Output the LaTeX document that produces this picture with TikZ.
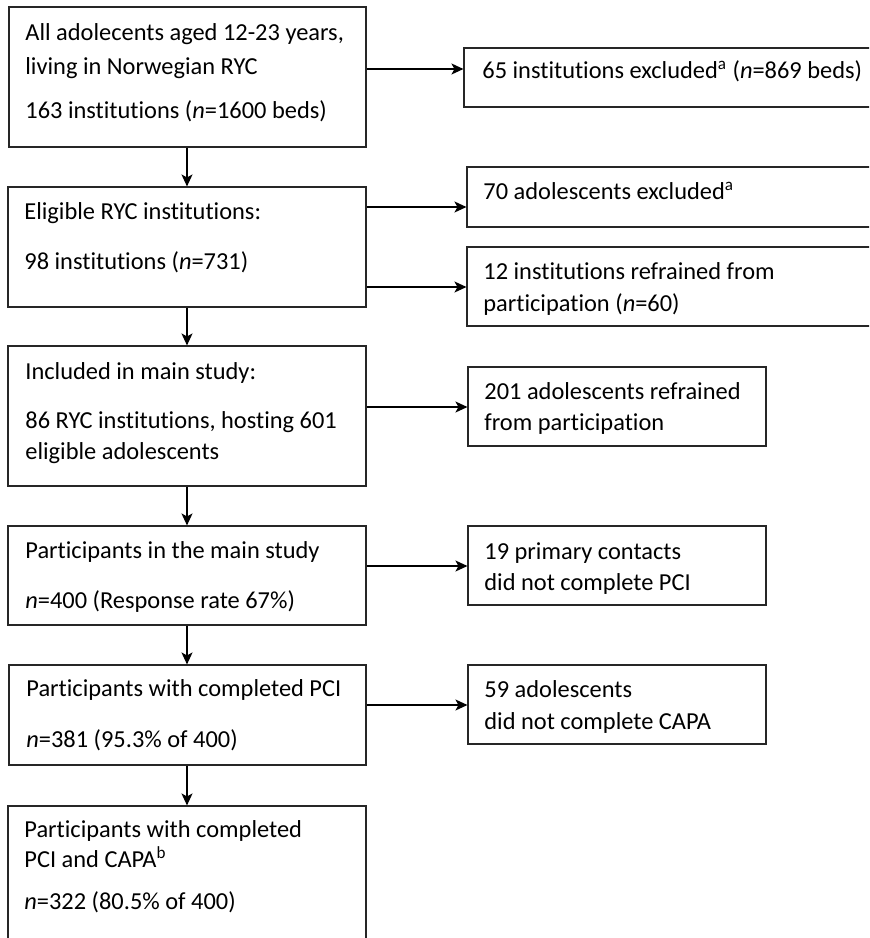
\documentclass[tikz,border=0pt]{standalone}
\usepackage{fontspec}
\setmainfont{Carlito}[Ligatures=NoCommon]
\usetikzlibrary{fit,arrows.meta}
\begin{document}
\begin{tikzpicture}[x=0.5pt,y=-0.5pt,
  box/.style={draw=black!85,line width=0.55pt,inner sep=0pt,rectangle},
  txt/.style={anchor=base west,inner sep=0pt,font=\fontsize{12.2pt}{14pt}\selectfont},
  arr/.style={line width=0.75pt,-{Stealth[length=6pt,width=5.5pt,inset=1.5pt]}}]
\useasboundingbox (0,0) rectangle (869,938);
\clip (0,0) rectangle (869,938);
% boxes
\node[box,fit={(9,7) (366,147)}] (b1) {};
\node[box,fit={(464,48) (885,107)}] (b2) {};
\node[box,fit={(8,187) (366,307)}] (b3) {};
\node[box,fit={(467,167) (885,227)}] (b4) {};
\node[box,fit={(467,247) (885,326)}] (b5) {};
\node[box,fit={(8,346) (366,486)}] (b6) {};
\node[box,fit={(468,367) (766,446)}] (b7) {};
\node[box,fit={(8,526) (366,625)}] (b8) {};
\node[box,fit={(468,526) (766,605)}] (b9) {};
\node[box,fit={(9,665) (366,765)}] (b10) {};
\node[box,fit={(468,665) (766,744)}] (b11) {};
\node[box,fit={(8,806) (366,970)}] (b12) {};
% texts
\node[txt] (t1a) at (25,40) {All adolecents aged 12-23 years,};
\node[txt] (t1b) at (25,74) {living in Norwegian RYC};
\node[txt] (t1c) at (25,118) {163 institutions (\textit{n}=1600 beds)};
\node[txt] (t2) at (482,78) {65 institutions excluded\textsuperscript{a} (\textit{n}=869 beds)};
\node[txt] (t3a) at (24,219) {Eligible RYC institutions:};
\node[txt] (t3b) at (24,269) {98 institutions (\textit{n}=731)};
\node[txt] (t4) at (483,199) {70 adolescents excluded\textsuperscript{a}};
\node[txt] (t5a) at (483,279) {12 institutions refrained from};
\node[txt] (t5b) at (483,311) {participation (\textit{n}=60)};
\node[txt] (t6a) at (25,379) {Included in main study:};
\node[txt] (t6b) at (25,428) {86 RYC institutions, hosting 601};
\node[txt] (t6c) at (25,459) {eligible adolescents};
\node[txt] (t7a) at (484,399) {201 adolescents refrained};
\node[txt] (t7b) at (484,430) {from participation};
\node[txt] (t8a) at (25,558) {Participants in the main study};
\node[txt] (t8b) at (25,608) {\textit{n}=400 (Response rate 67\%)};
\node[txt] (t9a) at (484,559) {19 primary contacts};
\node[txt] (t9b) at (484,590) {did not complete PCI};
\node[txt] (t10a) at (26,696) {Participants with completed PCI};
\node[txt] (t10b) at (26,747) {\textit{n}=381 (95.3\% of 400)};
\node[txt] (t11a) at (484,697) {59 adolescents};
\node[txt] (t11b) at (484,729) {did not complete CAPA};
\node[txt] (t12a) at (24,837) {Participants with completed};
\node[txt] (t12b) at (24,867) {PCI and CAPA\textsuperscript{b}};
\node[txt] (t12c) at (24,909) {\textit{n}=322 (80.5\% of 400)};
% helper coordinates
\coordinate (vx) at (187,0);
\coordinate (h1) at (0,69);
\coordinate (h3) at (0,207);
\coordinate (h4) at (0,287);
\coordinate (h6) at (0,407);
\coordinate (h8) at (0,566);
\coordinate (h10) at (0,705);
% vertical arrows
\draw[arr] (b1.south -| vx) -- (b3.north -| vx);
\draw[arr] (b3.south -| vx) -- (b6.north -| vx);
\draw[arr] (b6.south -| vx) -- (b8.north -| vx);
\draw[arr] (b8.south -| vx) -- (b10.north -| vx);
\draw[arr] (b10.south -| vx) -- (b12.north -| vx);
% horizontal arrows
\draw[arr] (b1.east |- h1) -- (b2.west |- h1);
\draw[arr] (b3.east |- h3) -- (b4.west |- h3);
\draw[arr] (b3.east |- h4) -- (b5.west |- h4);
\draw[arr] (b6.east |- h6) -- (b7.west |- h6);
\draw[arr] (b8.east |- h8) -- (b9.west |- h8);
\draw[arr] (b10.east |- h10) -- (b11.west |- h10);
\end{tikzpicture}
\end{document}
